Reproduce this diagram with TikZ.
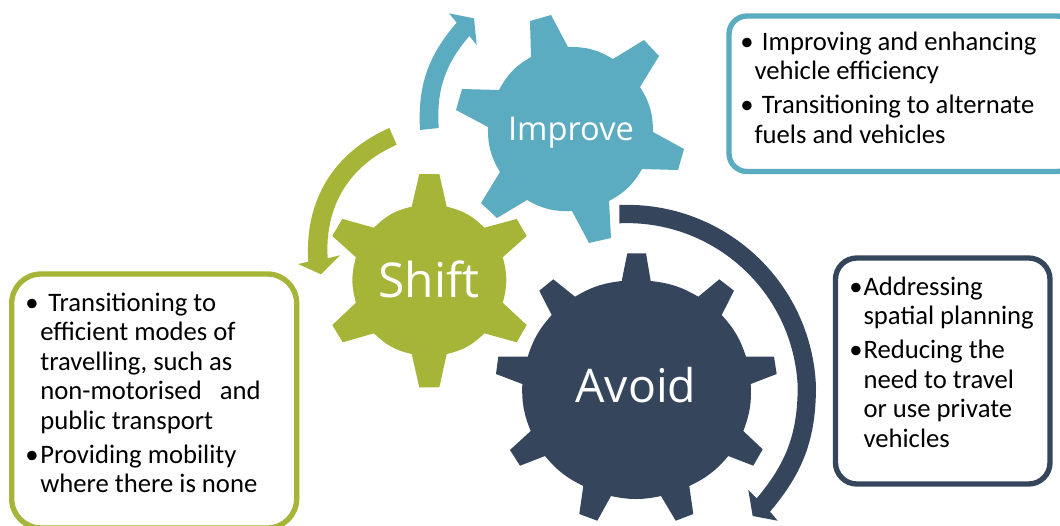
\documentclass[tikz,border=0pt]{standalone}
\usepackage{fontspec}
\setmainfont{Carlito}
\newfontfamily\gearfont{Open Sans}
\definecolor{teal1}{HTML}{5BACC0}
\definecolor{olive1}{HTML}{A6B538}
\definecolor{navy1}{HTML}{35465C}
\newcommand{\bul}[1]{\makebox[#1][l]{\textbullet}}
\tikzset{
	gearlabel/.style={text=white, inner sep=0pt, font=\gearfont},
	notebox/.style={line width=4pt, fill=white, rounded corners=#1},
	notetext/.style={anchor=north west, inner sep=0pt, align=left, text=black, font=\fontsize{20}{22.1}\selectfont},
}

\begin{document}
\begin{tikzpicture}[x=0.75pt,y=-0.75pt]
				\useasboundingbox (0,0) rectangle (1060,525);
				\clip (0,0) rectangle (1060,525);
				\coordinate (cImprove) at (571,133);
				\coordinate (cShift) at (429,279);
				\coordinate (cAvoid) at (636,385);
				
				\fill[teal1]
				(530,21) -- (551,15) -- (568,47) to[bend left=16] (613,59)
				-- (644,40) -- (659,56) -- (640,87) to[bend left=16] (653,132)
				-- (684,149) -- (678,170) -- (642,169) to[bend left=16] (609,201)
				-- (611,238) -- (589,243) -- (572,211) to[bend left=16] (527,200)
				-- (497,218) -- (481,203) -- (500,172) to[bend left=16] (488,127)
				-- (456,110) -- (462,89) -- (499,90) to[bend left=16] (531,57) -- cycle;
				
				\fill[olive1]
				(419.3,174) -- (439.3,174) -- (446.7,206.7) to[bend left=16] (484.3,227.7)
				-- (516.7,219) -- (526.7,236) -- (502.7,257.3) to[bend left=16] (502.7,302.7)
				-- (526.7,325) -- (516.7,342.3) -- (484.3,333.3) to[bend left=16] (446.7,354)
				-- (439.3,387.3) -- (419.3,387.3) -- (411.7,354) to[bend left=16] (374,333.3)
				-- (342.7,342.3) -- (332.3,325) -- (356,302.7) to[bend left=16] (356,257.3)
				-- (332.3,236) -- (342.3,219) -- (374,227.7) to[bend left=16] (411.7,206.7) -- cycle;
				
				\fill[navy1]
				(627.3,253.3) -- (646,253.3) -- (650.7,281) to[bend left=12] (698.3,296.7)
				-- (719.3,279.3) -- (734,290.7) -- (721.7,315) to[bend left=12] (746,356.7)
				-- (774,356.7) -- (776.7,374) -- (750.7,384) to[bend left=12] (743.3,431)
				-- (762.7,449.3) -- (753.3,465.7) -- (728.3,456) to[bend left=12] (689.3,486)
				-- (693.3,514) -- (675.7,520.7) -- (661,496) to[bend left=12] (611,496)
				-- (597.3,520.7) -- (579.3,514) -- (583.3,486) to[bend left=12] (545,456)
				-- (520,465.7) -- (510,450) -- (530.7,431) to[bend left=12] (522.3,384)
				-- (496,374) -- (498.3,356.7) -- (527.7,356.7) to[bend left=12] (551.7,315)
				-- (539.3,290.7) -- (553.3,279.3) -- (575,296.7) to[bend left=12] (621.7,281) -- cycle;
				
				\fill[teal1]
				(420,130) to[bend left=22] (456.7,22.7) -- (449,13.3) -- (474,18.3) -- (476.7,45)
				-- (469.3,36) to[bend right=22] (438.7,128) -- cycle;
				\fill[olive1]
				(389.3,128) to[bend right=35] (308.3,261.7) -- (298,264) -- (321,274.3) -- (340,255.3)
				-- (327.7,258.3) to[bend left=35] (396.7,144.7) -- cycle;
				\fill[navy1]
				(619.3,205) to[bend left=45] (816,386.7) to[bend left=20] (770,511.7) -- (777.7,520.7)
				-- (752.7,516) -- (748.3,490) -- (756.7,498.3) to[bend right=20] (797.7,386.7)
				to[bend right=45] (619.3,223.3) -- cycle;
				
				\node[gearlabel, font=\gearfont\fontsize{24.5}{29}\selectfont] (lblImprove) at (cImprove) {Improve};
				\node[gearlabel, font=\gearfont\fontsize{36}{43}\selectfont] (lblShift) at (cShift) {Shift};
				\node[gearlabel, font=\gearfont\fontsize{34.8}{42}\selectfont] (lblAvoid) at (cAvoid) {Avoid};
				
				\draw[notebox=13.5pt, draw=teal1] (729,16) rectangle (1075,171.5);
				\draw[notebox=22pt, draw=olive1] (11.7,274) rectangle (296.7,528);
				\draw[notebox=16pt, draw=navy1] (835.5,258) rectangle (1050,484);
				
				\node[notetext] (noteImprove) at (740,31.5) {\bul{16.3pt}Improving and enhancing\\
					\hspace*{10.7pt}vehicle efficiency\\[3.4pt]
					\bul{16.3pt}Transitioning to alternate\\
					\hspace*{10.7pt}fuels and vehicles};
				\node[notetext] (noteShift) at (25,292.5) {\bul{17.3pt}Transitioning to\\
					\hspace*{11.3pt}efficient modes of\\
					\hspace*{11.3pt}travelling, such as\\
					\hspace*{11.3pt}non-motorised\ \ \ and\\
					\hspace*{11.3pt}public transport\\[3.4pt]
					\bul{11.3pt}Providing mobility\\
					\hspace*{11.3pt}where there is none};
				\node[notetext] (noteAvoid) at (849,276.5) {\bul{10.7pt}Addressing\\
					\hspace*{10.7pt}spatial planning\\[3.4pt]
					\bul{10.7pt}Reducing the\\
					\hspace*{10.7pt}need to travel\\
					\hspace*{10.7pt}or use private\\
					\hspace*{10.7pt}vehicles};
			\end{tikzpicture}
\end{document}
